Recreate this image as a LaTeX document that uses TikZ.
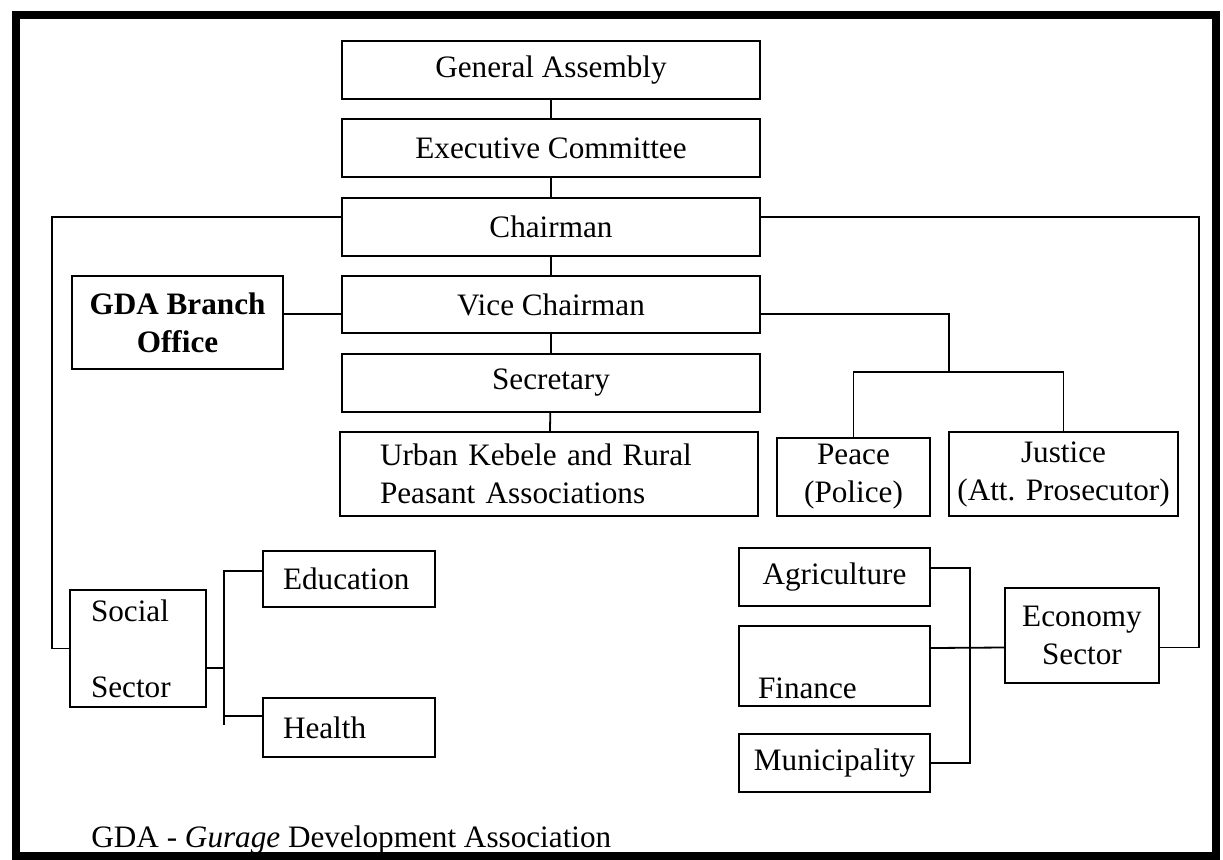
\documentclass[tikz,border=0pt]{standalone}
\usepackage{fontspec}
\setmainfont{Liberation Serif}
\usepackage{tikz}

\begin{document}
\begin{tikzpicture}[x=0.5pt, y=-0.5pt,
		font=\fontsize{15.6}{19}\selectfont,
		box/.style={draw, rectangle, line width=0.9pt, inner ysep=2pt},
		cbox/.style={box, align=center, minimum width=#1},
		lbox/.style={box, align=left},
		wire/.style={line width=0.9pt}]
		\useasboundingbox (0,0) rectangle (1223,859);

		\node[cbox=209pt, minimum height=29pt] (ga) at (551,70) {General Assembly};
		\node[cbox=209pt, minimum height=29pt] (exec) at (551,148) {Executive Committee};
		\node[cbox=209pt, minimum height=29pt] (chair) at (551,227) {Chairman};
		\node[cbox=209pt, minimum height=28.5pt] (vice) at (551,304.5) {Vice Chairman};
		\node[cbox=209pt, minimum height=29pt] (sec) at (551,383) {Secretary};
		\node[lbox, inner xsep=20pt, text width=169pt, minimum height=42pt] (urban) at (549,474)
			{Urban Kebele and Rural\\Peasant Associations};
		\node[cbox=105.5pt, minimum height=46.5pt] (branch) at (177.5,322.5)
			{\textbf{GDA Branch}\\\textbf{Office}};

		\node[cbox=76.5pt, minimum height=39pt] (peace) at (853.5,477) {Peace\\(Police)};
		\node[cbox=114.5pt, minimum height=42pt] (justice) at (1063.5,474) {Justice\\(Att. Prosecutor)};

		\node[cbox=95.5pt, minimum height=29pt] (agri) at (834.5,577) {Agriculture};
		\node[lbox, inner xsep=9.5pt, text width=76.5pt, minimum height=40pt] (fin) at (834.5,666)
			{\strut\\Finance};
		\node[cbox=95.5pt, minimum height=29pt] (muni) at (834.5,763) {Municipality};
		\node[cbox=77pt, minimum height=47.5pt] (econ) at (1082,635.5) {Economy\\Sector};

		\node[lbox, inner xsep=10.5pt, text width=47pt, minimum height=58.5pt] (social) at (138,648.5)
			{Social\\[19pt]Sector};
		\node[lbox, inner xsep=10pt, text width=66pt, minimum height=28pt] (edu) at (349,579) {Education};
		\node[lbox, inner xsep=10pt, text width=66pt, minimum height=29.5pt] (health) at (349,727.5) {Health};

		\coordinate (vhub) at (949,372);
		\coordinate (sbot) at (224,725);

		\draw[wire] (ga) -- (exec);
		\draw[wire] (exec) -- (chair);
		\draw[wire] (chair) -- (vice);
		\draw[wire] (vice) -- (sec);
		\draw[wire] (sec) -- (urban);
		\draw[wire] ([yshift=4.25pt]branch.east) -- ([yshift=-4.75pt]vice.west);
		\draw[wire] ([yshift=-4.75pt]vice.east) -| (vhub);
		\draw[wire] (peace.north) |- (vhub) -| (justice.north);

		\draw[wire] ([yshift=5pt]chair.west) -| ([xshift=-8.5pt]social.west) -- (social.west);
		\draw[wire] ([yshift=5pt]chair.east) -| ([xshift=19.5pt,yshift=-6pt]econ.east)
			-- ([yshift=-6pt]econ.east);

		\draw[wire] ([yshift=4pt]edu.west) -| (sbot);
		\draw[wire] ([yshift=5.75pt]health.west) -- ([yshift=5.75pt]health.west -| sbot);
		\draw[wire] ([yshift=-9.75pt]social.east) -- ([yshift=-9.75pt]social.east -| sbot);

		\draw[wire] ([yshift=4.5pt]agri.east) -| ([xshift=19.5pt]muni.east) -- (muni.east);
		\draw[wire] ([yshift=9pt]fin.east) -- ([yshift=-6pt]econ.west);

		\node[anchor=base west, inner sep=0pt] (note) at (91,847)
			{GDA - \textit{Gurage} Development Association};
		\draw[line width=4pt] (16,15) rectangle (1216,856);
	\end{tikzpicture}
\end{document}
